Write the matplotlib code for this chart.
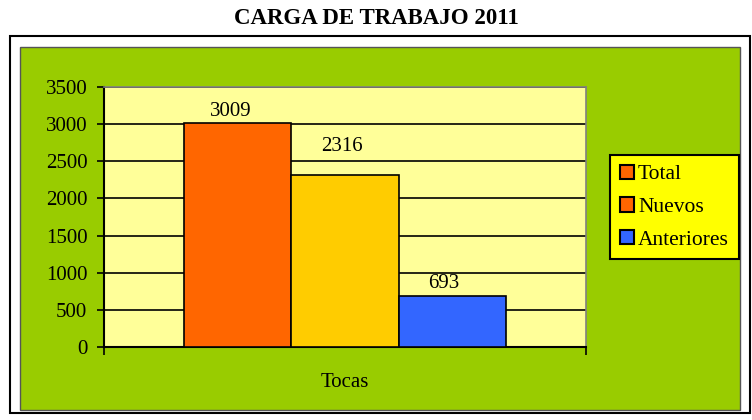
import matplotlib
matplotlib.use("Agg")
import matplotlib.pyplot as plt
from matplotlib.patches import Rectangle, Patch

plt.rcParams['font.family'] = ['Liberation Serif', 'DejaVu Serif']

category = "Tocas"
series = ["Total", "Nuevos", "Anteriores"]
values = [3009, 2316, 693]
bar_colors = ["#FF6600", "#FFCC00", "#3366FF"]
legend_colors = ["#FF6600", "#FF6600", "#3366FF"]
yticks = [0, 500, 1000, 1500, 2000, 2500, 3000, 3500]

W, H = 752, 420
fig = plt.figure(figsize=(W/100, H/100), dpi=100)
fig.patch.set_facecolor("white")

# outer black border and green chart area
fig.patches.append(Rectangle((10/W, 1-413/H), 740/W, (413-36)/H, transform=fig.transFigure,
                             facecolor="white", edgecolor="black", lw=1.5, zorder=0))
fig.patches.append(Rectangle((20/W, 1-410/H), 720/W, (410-47)/H, transform=fig.transFigure,
                             facecolor="#99CC00", edgecolor="#555555", lw=1.0, zorder=0))

fig.text(376/W, 1-18/H, "CARGA DE TRABAJO 2011", ha="center", va="center",
         fontsize=16.5, fontweight="bold")

left, right, top, bottom = 104, 586, 87, 347
ax = fig.add_axes([left/W, 1-bottom/H, (right-left)/W, (bottom-top)/H])
ax.set_zorder(2)
ax.set_facecolor("#FFFF99")
ax.set_xlim(0, 482)
ax.set_ylim(0, 3500)
bw = 107.3
x0 = 80
label_offsets = [(-5, 2), (-2, 14), (-6, 2)]
for i, (v, c) in enumerate(zip(values, bar_colors)):
    ax.bar(x0 + bw*i, v, width=bw, align="edge", color=c, edgecolor="black", lw=1.2, zorder=3)
    ax.annotate(str(v), (x0 + bw*i + bw/2, v), xytext=label_offsets[i], textcoords="offset points",
                ha="center", va="bottom", fontsize=15, zorder=4)
ax.set_yticks(yticks)
ax.set_yticklabels([str(t) for t in yticks], fontsize=15)
ax.yaxis.grid(True, color="black", lw=1.2, zorder=1)
ax.set_axisbelow(True)
ax.set_xticks([0, 482])
ax.set_xticklabels(["", ""])
ax.tick_params(axis="y", direction="out", length=5, width=1.2, pad=7)
ax.tick_params(axis="x", direction="out", length=6, width=1.2)
for s in ["left", "bottom"]:
    ax.spines[s].set_linewidth(1.5)
    ax.spines[s].set_color("black")
for s in ["top", "right"]:
    ax.spines[s].set_color("#808080")
    ax.spines[s].set_linewidth(1.2)
ax.text(241, -480, category, ha="center", va="center", fontsize=15)

handles = [Patch(facecolor=c, edgecolor="black", lw=1.5) for c in legend_colors]
leg = fig.legend(handles, series, loc="upper left", bbox_to_anchor=(610/W, 1-155/H),
                 fontsize=15.5, frameon=True, fancybox=False, facecolor="#FFFF00",
                 edgecolor="black", handlelength=0.65, handleheight=0.65, handletextpad=0.2,
                 labelspacing=0.6, borderpad=0.45, borderaxespad=0)
leg.set_zorder(3)
leg.get_frame().set_linewidth(1.5)
leg.get_frame().set_alpha(1)

fig.savefig("out.png", dpi=100)
